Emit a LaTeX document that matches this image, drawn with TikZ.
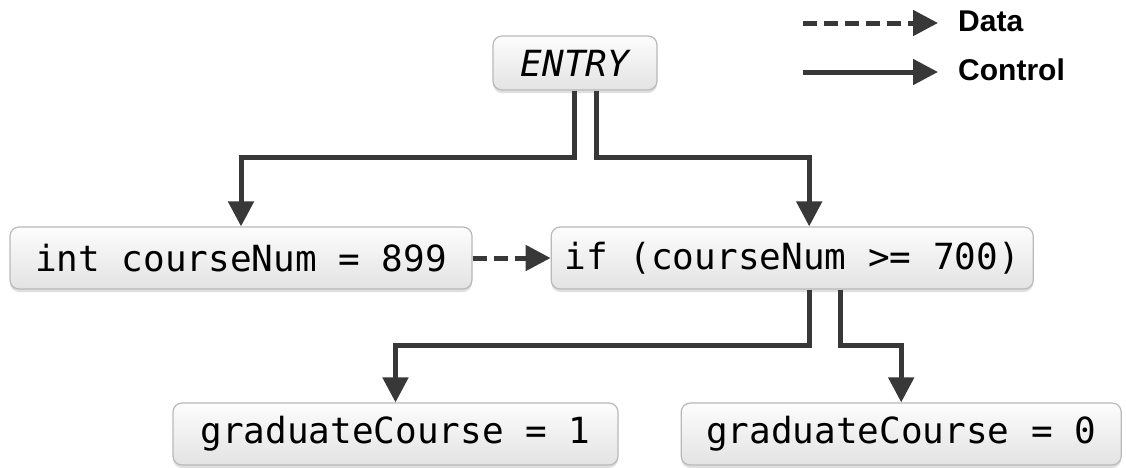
\documentclass[tikz,border=0pt]{standalone}
\usepackage{fontspec}
\setmonofont{DejaVu Sans Mono}
\setsansfont{Liberation Sans}
\usepackage{tikz}
\usetikzlibrary{arrows.meta,positioning,shadows}

\begin{document}
\begin{tikzpicture}[x=1pt, y=-1pt,
    stmt/.style={rectangle, rounded corners=9pt, draw=gray!55, line width=1.2pt,
        top color=gray!2, bottom color=gray!22,
        drop shadow={opacity=0.25, shadow xshift=0pt, shadow yshift=-3pt},
        minimum height=62pt, inner sep=0pt, font=\fontsize{36}{40}\selectfont\ttfamily},
    ctrl/.style={-{Triangle[length=25pt, width=25pt]}, line width=5pt, draw=black!78},
    dataflow/.style={ctrl, dash pattern=on 14pt off 7pt},
    legend/.style={font=\fontsize{30}{34}\selectfont\sffamily\bfseries, inner sep=0pt}]

    \useasboundingbox (0,0) rectangle (1126,467);

    % Entry point
    \node[stmt, minimum width=164pt, minimum height=54pt,
        font=\fontsize{36}{40}\selectfont\ttfamily\itshape] (entry) at (575,63) {ENTRY};

    % Statements
    \node[stmt, minimum width=462pt] (numbox) at (241,258) {int courseNum = 899};
    \node[stmt, minimum width=482pt, right=78pt of numbox] (ifbox) {if (courseNum >= 700)};
    \node[stmt, minimum width=445pt] (grad1) at (395.5,434) {graduateCourse = 1};
    \node[stmt, minimum width=440pt, right=62pt of grad1] (grad0) {graduateCourse = 0};

    % Control edges
    \draw[ctrl] ([xshift=-1pt]entry.south) -- ++(0,-67pt) -| (numbox.north);
    \draw[ctrl] ([xshift=21pt]entry.south) -- ++(0,-67pt) -| ([xshift=17pt]ifbox.north);
    \draw[ctrl] ([xshift=17pt]ifbox.south) -- ++(0,-56pt) -| (grad1.north);
    \draw[ctrl] ([xshift=48pt]ifbox.south) -- ++(0,-56pt) -| (grad0.north);

    % Data edge
    \draw[dataflow] (numbox) -- (ifbox);

    % Legend
    \node[legend, anchor=west] (datalbl) at (958,21) {Data};
    \node[legend, anchor=west] (ctrllbl) at (958,70) {Control};
    \coordinate (datastart) at (803,23);
    \coordinate (ctrlstart) at (803,72);
    \draw[dataflow, shorten >=20pt] (datastart) -- (datastart -| datalbl.west);
    \draw[ctrl, shorten >=20pt] (ctrlstart) -- (ctrlstart -| ctrllbl.west);

\end{tikzpicture}
\end{document}
